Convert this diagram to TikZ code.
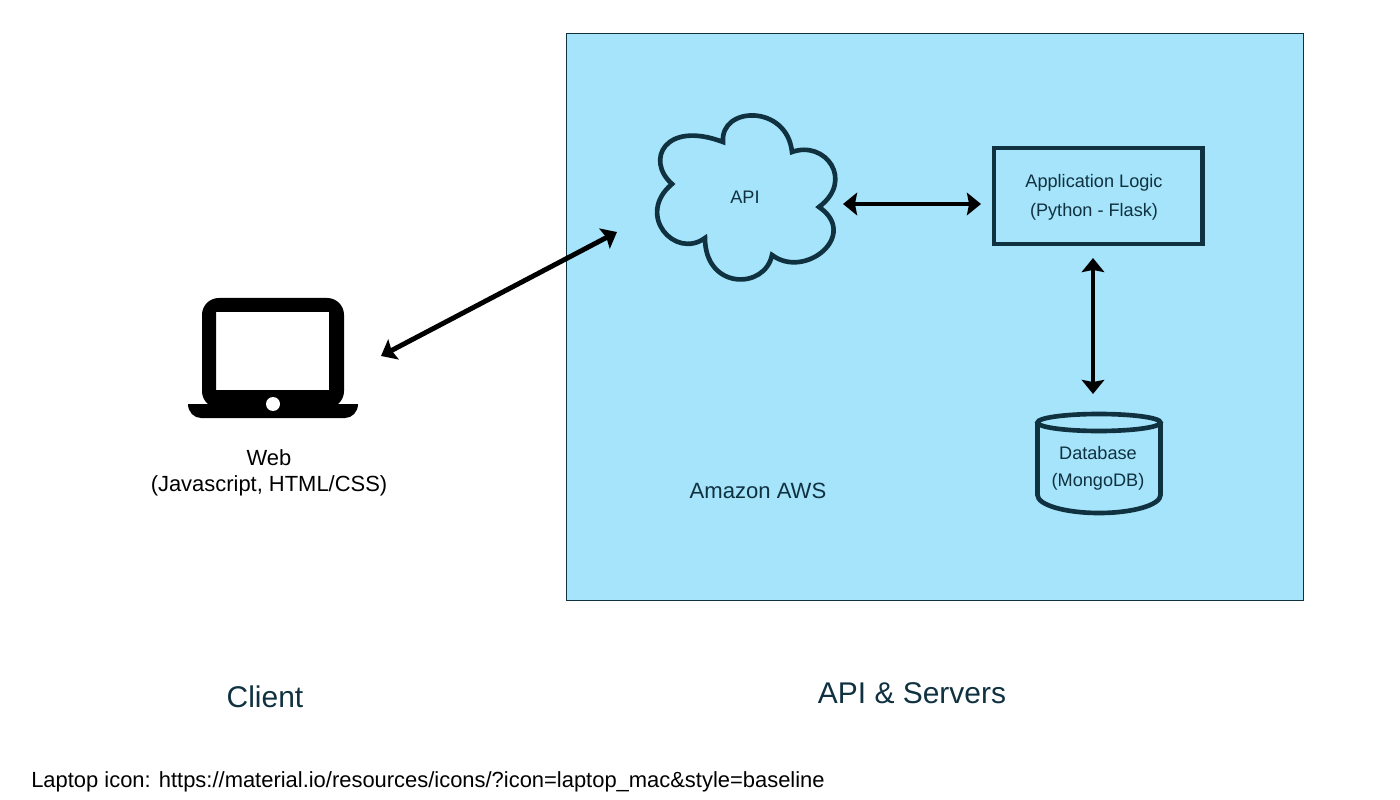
\documentclass[tikz,border=0pt]{standalone}
\usepackage{fontspec}
\setmainfont{Liberation Sans}
\usepackage{tikz}
\usetikzlibrary{arrows.meta,positioning}
\definecolor{awsblue}{HTML}{A5E4FA}
\definecolor{inkteal}{HTML}{0F3140}

\begin{document}
\begin{tikzpicture}[
  x=0.025cm, y=-0.025cm,
  label/.style={text=inkteal, align=center, inner sep=0pt},
  small/.style={label, font=\fontsize{12.9}{20.6}\selectfont},
  big/.style={label, font=\fontsize{21.3}{26}\selectfont},
  outline/.style={draw=inkteal, line width=3.3pt},
  rel/.style={{Stealth[length=10pt,width=16pt,inset=1.5pt]}-{Stealth[length=10pt,width=16pt,inset=1.5pt]}, line width=3.5pt, black}
]
\useasboundingbox (0,0) rectangle (1400,800);

\node[draw=inkteal, fill=awsblue, line width=0.5pt, minimum width=18.42cm, minimum height=14.17cm, inner sep=0pt] (aws) at (935,317) {};

\fill[black, even odd rule, rounded corners=12pt] (202,298) rectangle (344,408)
  (216,312) [sharp corners] rectangle (329,390);
\fill[black] (188,404) -- (358,404) .. controls (358,412) and (352,418) .. (345,418)
  -- (201,418) .. controls (194,418) and (188,412) .. cycle;
\fill[white] (273,404) circle (7);

\draw[outline, line join=miter] (723,142)
  .. controls (720,106) and (787,104) .. (792,152)
  .. controls (825,140) and (855,180) .. (819,207)
  .. controls (860,235) and (805,280) .. (772,255)
  .. controls (765,290) and (705,290) .. (705,238)
  .. controls (675,260) and (635,215) .. (672,184)
  .. controls (645,160) and (665,120) .. cycle;
\node[small] (api) at (745,197) {API};

\node[draw=inkteal, line width=3.5pt, minimum width=5.2cm, minimum height=2.4cm, inner sep=0pt] (logic) at (1098,196) {};
\node[small] (logictext) at (1094,197) {Application Logic\\(Python - Flask)};

\draw[outline] (1037.5,423) -- (1037.5,495) arc[start angle=180, end angle=360, x radius=61.5, y radius=-18] -- (1160.5,423);
\draw[outline] (1099,422.5) ellipse (61.5 and 8.5);
\node[small, font=\fontsize{12.9}{18.8}\selectfont] (db) at (1098,468.5) {Database\\(MongoDB)};

\node[label, font=\fontsize{15.7}{20}\selectfont] (region) at (758,491) {Amazon AWS};
\node[label, text=black, font=\fontsize{15.6}{18.8}\selectfont] (web) at (269,473) {Web\\(Javascript, HTML/CSS)};
\node[big] (client) at (265,697) {Client};
\node[big] (servers) at (912,693) {API \& Servers};
\node[label, text=black, anchor=west, font=\fontsize{15.6}{19}\selectfont] (credit) at (31,782) {Laptop icon: https://material.io/resources/icons/?icon=laptop\_mac\&style=baseline};

\coordinate (laptopend) at (381,356);
\coordinate (apiwest) at (617,232);
\coordinate (apieast) at (843,204);
\coordinate (logicwest) at (981,204);
\coordinate (logicsouth) at (1093,258);
\coordinate (dbnorth) at (1093,394);

\draw[rel] (laptopend) -- (apiwest);
\draw[rel] (apieast) -- (logicwest);
\draw[rel] (logicsouth) -- (dbnorth);
\end{tikzpicture}
\end{document}
